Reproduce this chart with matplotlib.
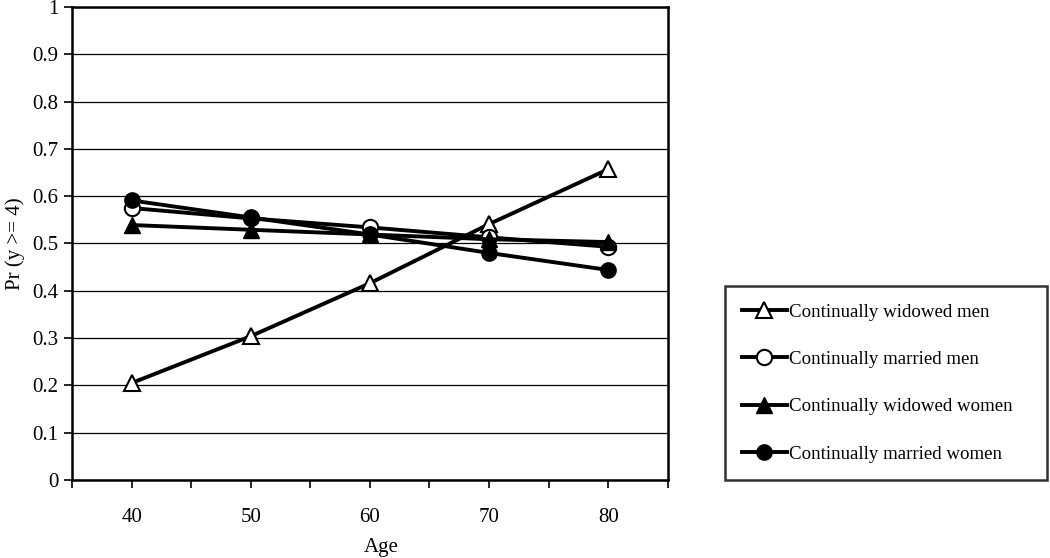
import matplotlib.pyplot as plt
import numpy as np

plt.rcParams['font.family'] = ['Liberation Serif', 'DejaVu Serif']

# data
age = [40, 50, 60, 70, 80]
widowed_men = [0.205, 0.304, 0.416, 0.541, 0.657]
married_men = [0.575, 0.553, 0.534, 0.513, 0.493]
widowed_women = [0.539, 0.529, 0.519, 0.509, 0.503]
married_women = [0.591, 0.555, 0.519, 0.480, 0.444]

labels = ['Continually widowed men', 'Continually married men',
          'Continually widowed women', 'Continually married women']

fig = plt.figure(figsize=(10.5, 5.58), dpi=100)
ax = fig.add_axes([0.0686, 0.1398, 0.5674, 0.8477])

ax.set_axisbelow(True)
ax.yaxis.grid(True, color='black', linewidth=0.9)

lw = 2.8
ax.plot(age, widowed_men, '-^', color='black', lw=lw, ms=12,
        mfc='white', mec='black', mew=1.5, label=labels[0], zorder=3)
ax.plot(age, married_men, '-o', color='black', lw=lw, ms=11,
        mfc='white', mec='black', mew=1.5, label=labels[1], zorder=3)
ax.plot(age, widowed_women, '-^', color='black', lw=lw, ms=12,
        mfc='black', mec='black', label=labels[2], zorder=4)
ax.plot(age, married_women, '-o', color='black', lw=lw, ms=11,
        mfc='black', mec='black', label=labels[3], zorder=4)

ax.set_xlim(35, 85)
ax.set_ylim(0, 1)
ax.set_xticks(np.arange(35, 86, 5))
ax.set_xticklabels(['' if v % 10 else str(v) for v in range(35, 86, 5)])
ax.set_yticks(np.arange(0, 1.01, 0.1))
ax.set_yticklabels(['0', '0.1', '0.2', '0.3', '0.4', '0.5', '0.6',
                    '0.7', '0.8', '0.9', '1'])
ax.tick_params(axis='both', labelsize=15, width=1.2, length=6, color='black')
ax.tick_params(axis='x', pad=14)
ax.tick_params(axis='y', pad=4)
for s in ax.spines.values():
    s.set_linewidth(1.8)

fig.text(0.3635, 0.018, 'Age', fontsize=15, ha='center', va='center')
ax.set_ylabel('Pr (y >= 4)', fontsize=15, labelpad=5)

leg = fig.legend(loc='lower left', bbox_to_anchor=(0.690, 0.140, 0.307, 0.353),
                 mode='expand', borderaxespad=0, fontsize=13.6, frameon=True,
                 fancybox=False, edgecolor='black', handlelength=2.4,
                 handletextpad=0.1, labelspacing=1.6, borderpad=0.9)
leg.get_frame().set_linewidth(1.8)

fig.savefig('out.png', dpi=100)
